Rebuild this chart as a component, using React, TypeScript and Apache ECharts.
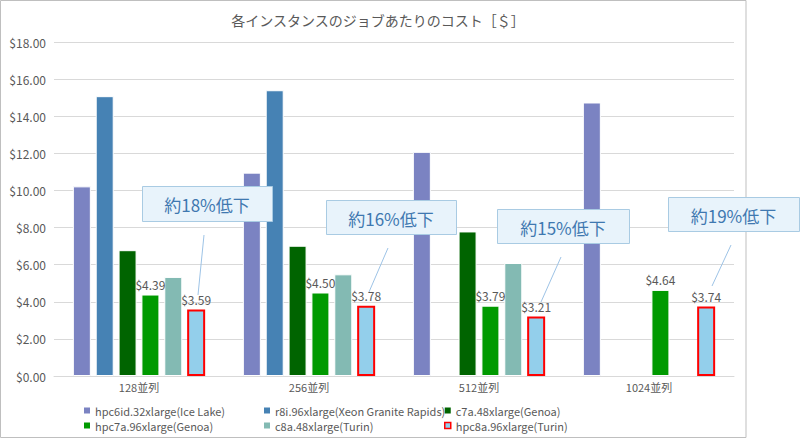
import React, { useEffect, useRef } from "react";
import * as echarts from "echarts";

const categories = ["128並列", "256並列", "512並列", "1024並列"];
const seriesNames = [
  "hpc6id.32xlarge(Ice Lake)",
  "r8i.96xlarge(Xeon Granite Rapids)",
  "c7a.48xlarge(Genoa)",
  "hpc7a.96xlarge(Genoa)",
  "c8a.48xlarge(Turin)",
  "hpc8a.96xlarge(Turin)",
];
const hpc6idValues = [10.22, 10.96, 12.08, 14.74];
const r8iValues = [15.08, 15.4, null, null];
const c7aValues = [6.78, 7.02, 7.79, null];
const hpc7aValues = [4.39, 4.5, 3.79, 4.64];
const c8aValues = [5.34, 5.48, 6.09, null];
const hpc8aValues = [3.59, 3.78, 3.21, 3.74];
const yTicks = { min: 0, max: 18, interval: 2 };
const calloutTexts = ["約18%低下", "約16%低下", "約15%低下", "約19%低下"];

const FONT = "'Noto Sans CJK JP', 'Noto Sans', sans-serif";
const GRAY = "#595959";

export default function App() {
  const ref = useRef<HTMLDivElement>(null);
  useEffect(() => {
    if (!ref.current) return;
    const chart = echarts.init(ref.current, null, { renderer: "svg" });
    const colors = ["#7B83C2", "#4682B4", "#006400", "#009A00", "#83BAB3", "#93CFEB"];
    const values = [hpc6idValues, r8iValues, c7aValues, hpc7aValues, c8aValues, hpc8aValues];
    const labeled = [false, false, false, true, false, true];
    const series = seriesNames.map((name, i) => ({
      name,
      type: "bar",
      data: values[i],
      barWidth: 18,
      barGap: "27%",
      itemStyle: {
        color: colors[i],
        borderColor: i === 5 ? "#FF0000" : "#FFFFFF",
        borderWidth: i === 5 ? 2 : 1,
      },
      label: {
        show: labeled[i],
        position: "top",
        distance: 4,
        color: GRAY,
        fontSize: 12,
        fontFamily: FONT,
        formatter: (p: any) => "$" + Number(p.value).toFixed(2),
      },
    }));
    const legendItem = (i: number) => ({
      name: seriesNames[i],
      itemStyle:
        i === 5
          ? { color: colors[5], borderColor: "#FF0000", borderWidth: 1.5 }
          : { color: colors[i], borderWidth: 0 },
    });
    const legendCommon = {
      orient: "vertical",
      top: 404,
      padding: 0,
      itemWidth: 6,
      itemHeight: 6,
      itemGap: 2,
      icon: "rect",
      textStyle: { color: GRAY, fontSize: 11, fontFamily: FONT, lineHeight: 13 },
    };
    const boxes = [
      { x: 142, y: 186, w: 130, h: 35, l: [204, 235, 198, 295] },
      { x: 326, y: 200, w: 130, h: 34, l: [388, 248, 369, 292] },
      { x: 497, y: 209, w: 132, h: 34, l: [561, 257, 541, 302] },
      { x: 668, y: 197, w: 131, h: 34, l: [731, 245, 712, 286] },
    ];
    const callouts: any[] = [];
    boxes.forEach((b, i) => {
      callouts.push({
        type: "line",
        z: 100,
        shape: { x1: b.l[0], y1: b.l[1], x2: b.l[2], y2: b.l[3] },
        style: { stroke: "#9DC3E6", lineWidth: 1 },
      });
      callouts.push({
        type: "rect",
        z: 100,
        shape: { x: b.x + 0.5, y: b.y + 0.5, width: b.w, height: b.h },
        style: { fill: "#E8F3FB", stroke: "#A9CBE3", lineWidth: 1 },
      });
      callouts.push({
        type: "text",
        z: 101,
        x: b.x + b.w / 2,
        y: b.y + b.h / 2 + 1,
        style: {
          text: calloutTexts[i],
          fill: "#3F78B0",
          fontSize: 17,
          fontFamily: FONT,
          align: "center",
          verticalAlign: "middle",
          textAlign: "center",
          textVerticalAlign: "middle",
        },
      });
    });
    chart.setOption({
      animation: false,
      backgroundColor: "#FFFFFF",
      title: {
        text: "各インスタンスのジョブあたりのコスト［＄］",
        left: 373,
        textAlign: "center",
        top: 8,
        textStyle: { color: GRAY, fontSize: 14, fontWeight: "normal", fontFamily: FONT },
      },
      grid: { left: 54, right: 66, top: 42, bottom: 63, containLabel: false },
      legend: [
        { ...legendCommon, left: 84, data: [legendItem(0), legendItem(3)] },
        { ...legendCommon, left: 264, data: [legendItem(1), legendItem(4)] },
        { ...legendCommon, left: 444, data: [legendItem(2), legendItem(5)] },
      ],
      xAxis: {
        type: "category",
        data: categories,
        axisLine: { lineStyle: { color: "#D9D9D9", width: 1 } },
        axisTick: { show: false },
        axisLabel: { color: GRAY, fontSize: 11, fontFamily: FONT, margin: 5 },
      },
      yAxis: {
        type: "value",
        min: yTicks.min,
        max: yTicks.max,
        interval: yTicks.interval,
        axisLine: { show: false },
        axisTick: { show: false },
        splitLine: { lineStyle: { color: "#D9D9D9", width: 1 } },
        axisLabel: {
          color: GRAY,
          fontSize: 12,
          fontFamily: FONT,
          margin: 8,
          formatter: (v: number) => "$" + v.toFixed(2),
        },
      },
      graphic: [
        {
          type: "rect",
          z: -10,
          silent: true,
          shape: { x: 0.5, y: 0.5, width: 745.5, height: 437 },
          style: { fill: "none", stroke: "#BFBFBF", lineWidth: 1 },
        },
        ...callouts,
      ],
      series,
    });
    return () => chart.dispose();
  }, []);
  return (
    <div
      ref={ref}
      style={{ position: "absolute", left: 0, top: 0, width: 800, height: 439, background: "#fff" }}
    />
  );
}
